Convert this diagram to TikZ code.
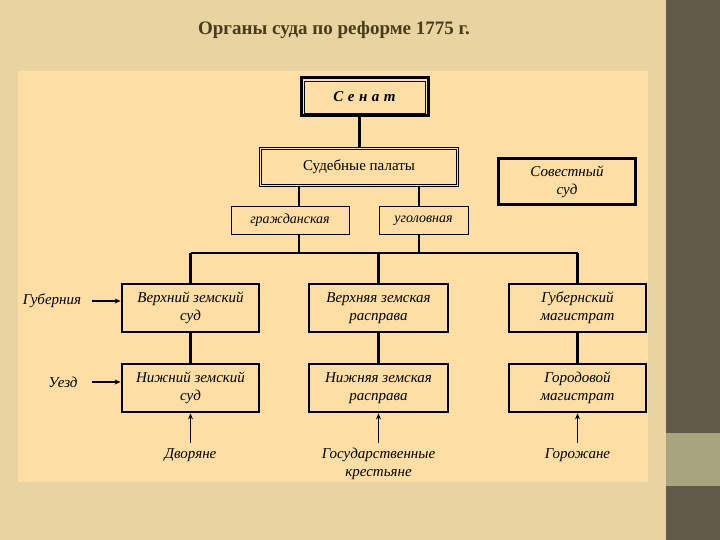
\documentclass[tikz,border=0pt]{standalone}
\usepackage{fontspec}
\setmainfont{Liberation Serif}
\usetikzlibrary{arrows.meta}
\definecolor{parchment}{RGB}{232,212,160}
\definecolor{panel}{RGB}{253,222,164}
\definecolor{slate}{RGB}{98,90,72}
\definecolor{sage}{RGB}{168,164,126}
\definecolor{titleink}{RGB}{72,60,28}
\begin{document}
\begin{tikzpicture}[x=1pt,y=-1pt,
    box/.style={draw,line width=2.8pt,inner sep=0pt,align=center,font=\fontsize{15}{18}\selectfont\itshape},
    sub/.style={draw,line width=1pt,inner sep=0pt,minimum height=28,font=\fontsize{14}{17}\selectfont\itshape},
    lab/.style={inner sep=1pt,align=center,font=\fontsize{15}{18}\selectfont\itshape},
    link/.style={line width=3pt},
    thin/.style={line width=1.8pt},
    arr/.style={line width=1.6pt,-{Stealth[length=6pt,width=5pt]}}]
  \fill[parchment] (0,0) rectangle (666,540);
  \fill[slate] (666,0) rectangle (720,540);
  \fill[sage] (666,433) rectangle (720,486);
  \fill[panel] (18,71) rectangle (648,482);
  \useasboundingbox (0,0) rectangle (720,540);
  \node[font=\fontsize{19}{22}\selectfont\bfseries,text=titleink] (title) at (334,30) {Органы суда по реформе 1775 г.};
  \node[draw,line width=3pt,inner sep=0pt,minimum width=127,minimum height=38,
    font=\fontsize{15}{18}\selectfont\bfseries\itshape] (senat) at (364.5,97) {\addfontfeatures{LetterSpace=30}Сенат};
  \draw[line width=0.8pt] ([shift={(4.5,4.5)}]senat.north west) rectangle ([shift={(-4.5,-4.5)}]senat.south east);
  \node[draw,double=panel,double distance=1.5pt,line width=0.7pt,inner sep=0pt,minimum width=197,minimum height=37,
    font=\fontsize{15}{18}\selectfont] (palaty) at (359,167) {Судебные палаты};
  \node[sub,minimum width=118] (civil) at (290,220.5) {гражданская};
  \node[sub,minimum width=89] (crim) at (423.5,220.5) {уголовная};
  \node[box,line width=3pt,minimum width=137,minimum height=46] (sovest) at (567,181.5) {Совестный\\суд};
  \node[box,minimum width=137,minimum height=48] (vzs) at (190.5,308) {Верхний земский\\суд};
  \node[box,minimum width=139,minimum height=48] (vzr) at (378.5,308) {Верхняя земская\\расправа};
  \node[box,minimum width=137,minimum height=48] (gm) at (577.5,308) {Губернский\\магистрат};
  \node[box,minimum width=137,minimum height=48] (nzs) at (190.5,388) {Нижний земский\\суд};
  \node[box,minimum width=139,minimum height=48] (nzr) at (378.5,388) {Нижняя земская\\расправа};
  \node[box,minimum width=137,minimum height=48] (gorm) at (577.5,388) {Городовой\\магистрат};
  \node[lab] (gub) at (52,301) {Губерния};
  \node[lab] (uezd) at (63,382) {Уезд};
  \node[lab,anchor=north] (dvor) at (190.5,447) {Дворяне};
  \node[lab,anchor=north] (krest) at (378.5,447) {Государственные\\крестьяне};
  \node[lab,anchor=north] (gorozh) at (577.5,447) {Горожане};
  \coordinate (bus) at (0,253);
  \coordinate (jc) at (299,253);
  \coordinate (jk) at (419,253);
  \begin{scope}[link]
    \draw (palaty.north) -- (palaty.north |- senat.south);
    \draw (vzs.north) -- (vzs.north |- bus);
    \draw (vzr.north) -- (vzr.north |- bus);
    \draw (gm.north) -- (gm.north |- bus);
    \draw (vzs.south) -- (nzs.north);
    \draw (vzr.south) -- (nzr.north);
    \draw (gm.south) -- (gorm.north);
  \end{scope}
  \begin{scope}[thin]
    \draw (palaty.south -| jc) -- (civil.north -| jc);
    \draw (civil.south -| jc) -- (jc);
    \draw (palaty.south -| jk) -- (crim.north -| jk);
    \draw (crim.south -| jk) -- (jk);
    \draw (vzs.north |- bus) -- (gm.north |- bus);
  \end{scope}
  \draw[arr] ([xshift=10pt]gub.east) -- (gub.east -| vzs.west);
  \draw[arr] ([xshift=13pt]uezd.east) -- (uezd.east -| nzs.west);
  \draw[arr] ([yshift=4pt]dvor.north) -- (nzs.south);
  \draw[arr] ([yshift=4pt]krest.north) -- (nzr.south);
  \draw[arr] ([yshift=4pt]gorozh.north) -- (gorm.south);
\end{tikzpicture}
\end{document}
